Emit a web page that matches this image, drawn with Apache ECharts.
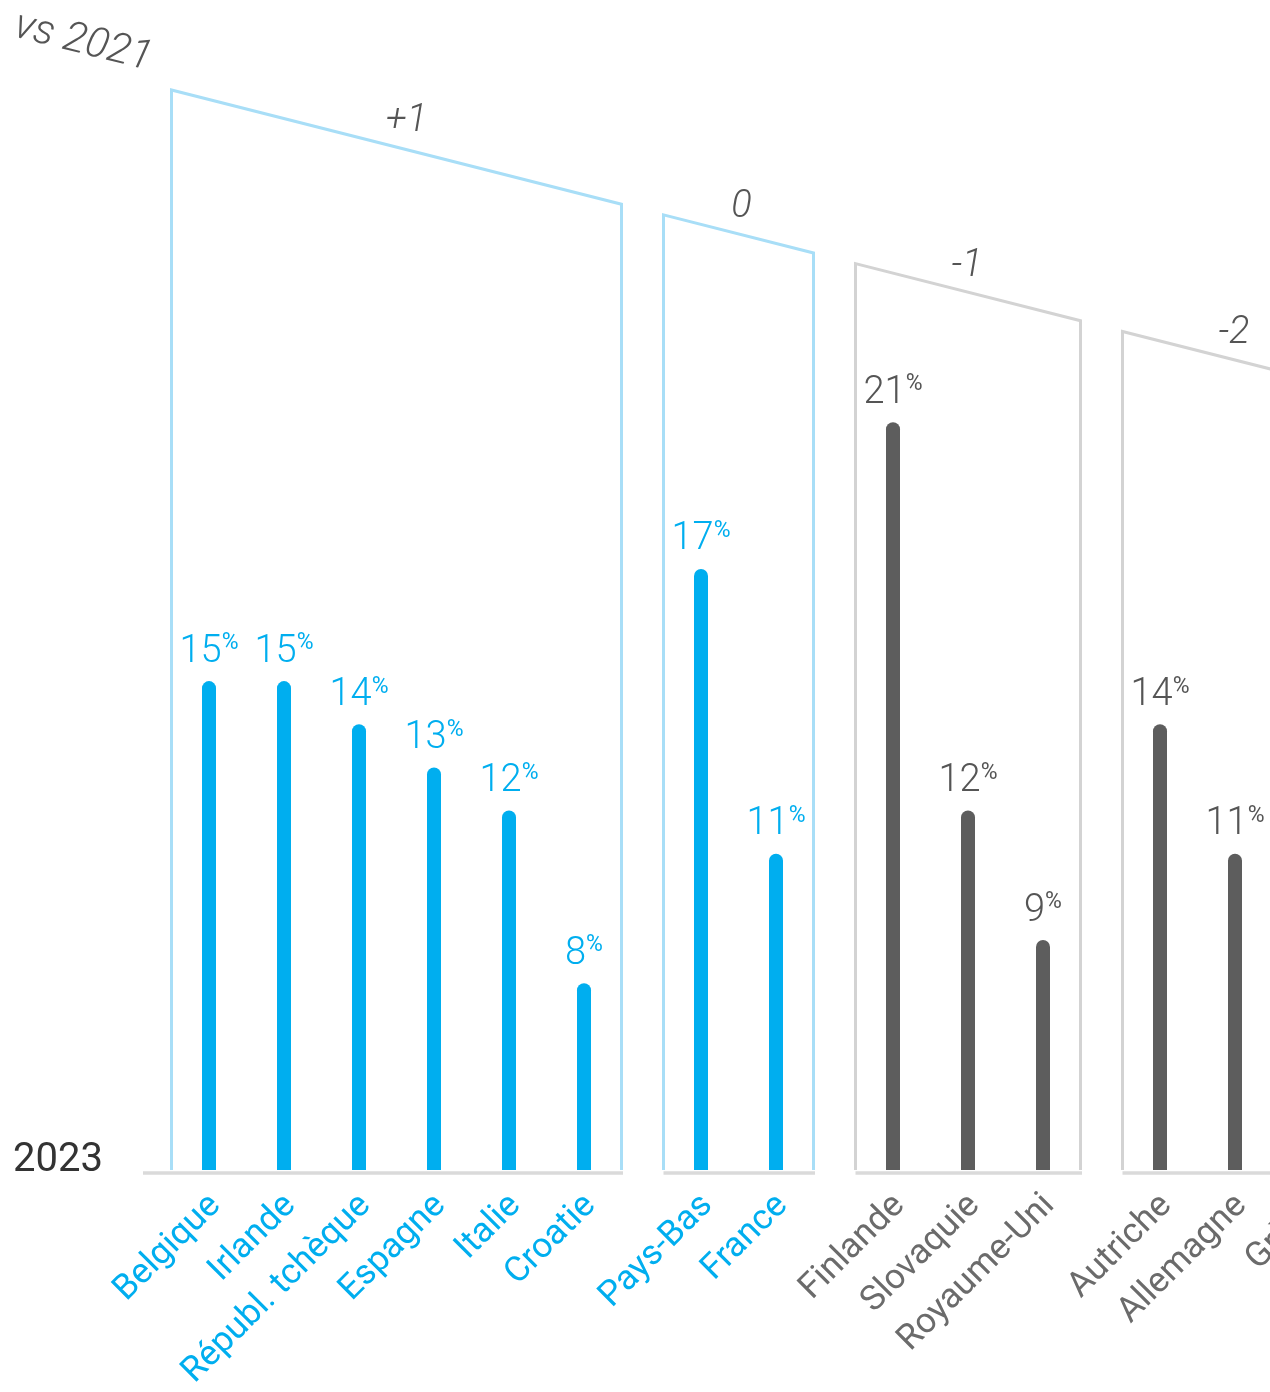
<!DOCTYPE html>
<html>
<head>
<meta charset="utf-8">
<style>
  html, body { margin: 0; padding: 0; background: #fff; overflow: hidden; }
  #chart { width: 1270px; height: 1392px; }
</style>
<script src="https://cdn.jsdelivr.net/npm/echarts@6/dist/echarts.min.js"></script>
</head>
<body>
<div id="chart"></div>
<script>
// ---- data ----
const categories = ['Belgique', 'Irlande', 'Républ. tchèque', 'Espagne', 'Italie', 'Croatie',
                    'Pays-Bas', 'France',
                    'Finlande', 'Slovaquie', 'Royaume-Uni',
                    'Autriche', 'Allemagne', 'Grèce'];
const share2023 = [15, 15, 14, 13, 12, 8, 17.6, 11, 21, 12, 9, 14, 11, null];
const shareLabels = ['15', '15', '14', '13', '12', '8', '17', '11', '21', '12', '9', '14', '11', ''];
const groupOf = [0, 0, 0, 0, 0, 0, 1, 1, 2, 2, 2, 3, 3, 3];
const groupDelta = ['+1', '0', '-1', '-2'];
const groupUp = [true, true, false, false];

// ---- styling / layout ----
const BLUE = '#00aeef', DARK = '#5d5d5d', CAT_GRAY = '#6b6b6b';
const BR_BLUE = '#a8def7', BR_GRAY = '#d3d3d3', BASE = '#dadada';
const GAP = 0.56;               // extra space between groups (category units)
const Y_MIN = 3.67, Y_MAX = 30.6;
const SLANT_Y0 = 28.7, SLANT_K = 0.4413; // decorative slanted top line (data units)
const LABEL_NUDGE = [10, 3, -1, -1];      // px nudges of the delta labels
const FONT = 'Roboto, "DejaVu Sans", sans-serif';

const pos = categories.map((c, i) => i + groupOf[i] * GAP);
const groups = groupDelta.map((d, g) => {
  const idx = pos.filter((p, i) => groupOf[i] === g);
  return { start: Math.min(...idx) - 0.5, end: Math.max(...idx) + 0.5 };
});
const slantY = x => SLANT_Y0 - SLANT_K * (x + 0.5);

const chart = echarts.init(document.getElementById('chart'));

const barData = share2023.map((v, i) => {
  const up = groupUp[groupOf[i]];
  return {
    value: [pos[i], v == null ? '-' : v],
    itemStyle: { color: up ? BLUE : DARK },
    label: { color: up ? BLUE : '#555' },
    name: shareLabels[i]
  };
});

const option = {
  animation: false,
  backgroundColor: '#fff',
  grid: { left: 143, right: -139, top: 8, bottom: 222, containLabel: false, outerBoundsMode: 'none' },
  xAxis: {
    type: 'value',
    min: -0.88,
    max: 16,
    splitLine: { show: false },
    axisLine: { show: false },
    axisTick: { show: false },
    axisLabel: {
      customValues: pos,
      rotate: 45,
      margin: 24,
      fontFamily: FONT,
      fontSize: 35,
      color: function (val) {
        const i = pos.findIndex(p => Math.abs(p - val) < 1e-6);
        return i >= 0 && groupUp[groupOf[i]] ? BLUE : CAT_GRAY;
      },
      formatter: function (val) {
        const i = pos.findIndex(p => Math.abs(p - val) < 1e-6);
        return i >= 0 ? '{c|' + categories[i] + '}' : '';
      },
      rich: {
        c: { fontFamily: FONT, fontSize: 35, padding: [18, 0, 0, 0] }
      }
    }
  },
  yAxis: {
    type: 'value', min: Y_MIN, max: Y_MAX, show: false,
    splitLine: { show: false }
  },
  graphic: [
    {
      type: 'text', x: 83, y: 43, rotation: -0.245,
      style: { text: 'vs 2021', font: 'italic 300 42px ' + FONT, fill: '#555',
               align: 'center', verticalAlign: 'middle', textAlign: 'center', textVerticalAlign: 'middle' }
    },
    {
      type: 'text', x: 13, y: 1161,
      style: { text: '2023', font: '400 40px ' + FONT, fill: '#333',
               align: 'left', verticalAlign: 'middle', textAlign: 'left', textVerticalAlign: 'middle' }
    }
  ],
  series: [
    {
      type: 'custom',
      clip: false,
      silent: true,
      z: 1,
      data: groupDelta.map((d, g) => [g]),
      renderItem: function (params, api) {
        const g = api.value(0);
        const gr = groups[g];
        const color = groupUp[g] ? BR_BLUE : BR_GRAY;
        const lb = api.coord([gr.start, Y_MIN]);
        const lt = api.coord([gr.start, slantY(gr.start)]);
        const rt = api.coord([gr.end, slantY(gr.end)]);
        const rb = api.coord([gr.end, Y_MIN]);
        const baseStart = api.coord([g === 0 ? -0.88 : gr.start, Y_MIN]);
        const mid = (gr.start + gr.end) / 2;
        const lab = api.coord([mid, slantY(mid)]);
        return {
          type: 'group',
          children: [
            { type: 'line', shape: { x1: baseStart[0], y1: lb[1] + 3, x2: rb[0] + 1.5, y2: rb[1] + 3 },
              style: { stroke: BASE, lineWidth: 3.5 } },
            { type: 'polyline', shape: { points: [lb, lt, rt, rb] },
              style: { stroke: color, lineWidth: 3, fill: null } },
            { type: 'text', x: lab[0] + LABEL_NUDGE[g], y: lab[1] - 26,
              style: { text: groupDelta[g], font: 'italic 300 38px ' + FONT, fill: '#555',
                       align: 'center', verticalAlign: 'middle' } }
          ]
        };
      }
    },
    {
      type: 'bar',
      z: 2,
      barWidth: 14,
      data: barData,
      itemStyle: { borderRadius: [7, 7, 0, 0] },
      label: {
        show: true,
        position: 'top',
        distance: 9,
        formatter: p => p.name ? '{n|' + p.name + '}{p|%}' : '',
        rich: {
          n: { fontFamily: FONT, fontWeight: 300, fontSize: 38, lineHeight: 40 },
          p: { fontFamily: FONT, fontWeight: 400, fontSize: 23, lineHeight: 24, verticalAlign: 'top' }
        }
      }
    }
  ]
};
chart.setOption(option);
</script>
</body>
</html>
